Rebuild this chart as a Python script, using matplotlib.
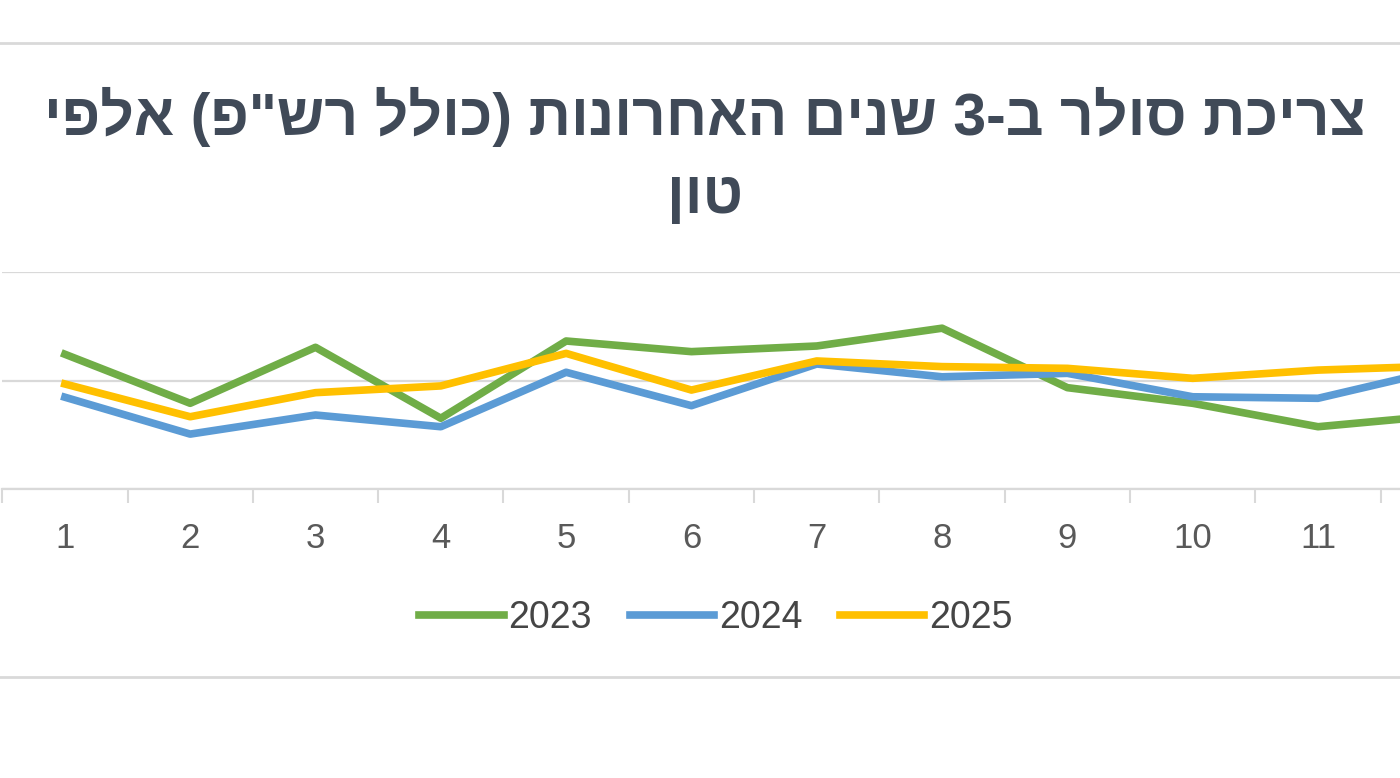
import matplotlib.pyplot as plt
from matplotlib.patches import Rectangle
from matplotlib.lines import Line2D

# monthly diesel consumption, thousand tons
months = list(range(1, 13))
y2023 = [212.1, 189.5, 215.3, 182.6, 218.2, 213.3, 215.9, 224.1, 196.7, 189.5, 178.7, 184.0]
y2024 = [192.3, 175.3, 184.1, 178.7, 203.8, 188.4, 207.6, 201.7, 203.3, 192.5, 191.8, 205.3]
y2025 = [198.4, 183.3, 194.4, 197.5, 212.5, 195.6, 209.0, 206.4, 205.6, 201.0, 204.8, 206.7]
years = ['2023', '2024', '2025']
colors = ['#70AD47', '#5B9BD5', '#FFC000']

title_line1 = 'צריכת סולר ב-3 שנים האחרונות (כולל רש"פ) אלפי'
title_line2 = 'טון'


def rtl(s):
    # matplotlib has no bidi support: put the text in visual order
    swap = {'(': ')', ')': '('}
    return ''.join(swap.get(c, c) for c in reversed(s))


plt.rcParams['font.family'] = ['Liberation Sans', 'DejaVu Sans']

W, H = 1400, 778
fig = plt.figure(figsize=(14, 7.78), dpi=100)
ax = fig.add_axes([2.2 / W, 1 - 489 / H, 1503.8 / W, 217 / H])

for vals, yr, c in zip([y2023, y2024, y2025], years, colors):
    ax.plot(months, vals, color=c, lw=5.5, label=yr, solid_joinstyle='round')

ax.set_xlim(0.5, 12.5)
ax.set_ylim(150, 250)
ax.set_yticks([150, 200, 250])
ax.grid(axis='y', color='#D9D9D9', lw=1.6)
ax.set_axisbelow(True)
for side in ['left', 'right', 'top']:
    ax.spines[side].set_visible(False)
ax.spines['bottom'].set_color('#D9D9D9')
ax.spines['bottom'].set_linewidth(1.6)
ax.tick_params(axis='y', left=False, labelleft=False)

# month 12 sits past the right edge of the picture, its label is not shown
shown = months[:11]
ax.set_xticks(shown)
ax.set_xticklabels([str(m) for m in shown], fontsize=25, color='#595959')
ax.set_xticks([m + 0.5 for m in range(0, 13)], minor=True)
ax.tick_params(axis='x', which='major', length=0, pad=24)
ax.tick_params(axis='x', which='minor', length=10, width=1.5, color='#D9D9D9')

fig.text(705 / W, 1 - 135 / H, rtl(title_line1), ha='center', va='baseline',
         fontsize=42.5, fontweight='bold', color='#404A58')
fig.text(705 / W, 1 - 213 / H, rtl(title_line2), ha='center', va='baseline',
         fontsize=42.5, fontweight='bold', color='#404A58')

handles = [Line2D([], [], color=c, lw=5.5) for c in colors]
fig.legend(handles, years, loc='center', bbox_to_anchor=(716 / W, 1 - 618 / H),
           ncol=3, frameon=False, handlelength=2.25, handletextpad=0.13,
           columnspacing=1.0, prop={'size': 27}, labelcolor='#454545')

fig.add_artist(Rectangle((-0.01, 1 - 677 / H), 1.02, (677 - 43) / H,
                         transform=fig.transFigure, fill=False,
                         edgecolor='#D9D9D9', lw=2))

fig.savefig('out.png', dpi=100)
